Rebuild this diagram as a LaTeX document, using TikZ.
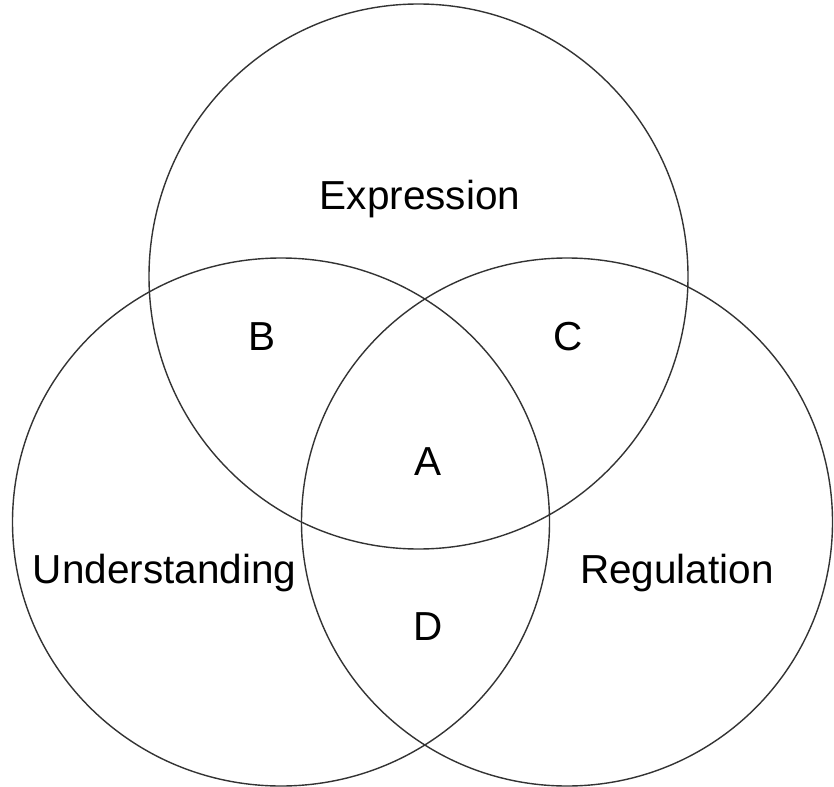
\documentclass[tikz,border=0pt]{standalone}
\usepackage{fontspec}
\setmainfont{Liberation Sans}
\usetikzlibrary{shapes.geometric}
\tikzset{
  setcircle/.style={draw=black!80, line width=1.4pt, ellipse, inner sep=0pt, outer sep=0pt},
  lbl/.style={font=\fontsize{40.5pt}{48pt}\selectfont, anchor=base, inner sep=0pt, text=black}
}
\begin{document}
\begin{tikzpicture}[x=1pt,y=-1pt]
\useasboundingbox (0,0) rectangle (834,786);
\node[setcircle, minimum width=539pt, minimum height=545pt] (top) at (418.5,276.5) {};
\node[setcircle, minimum width=537pt, minimum height=528pt] (left) at (281,522) {};
\node[setcircle, minimum width=531pt, minimum height=528pt] (right) at (567,522) {};
\node[lbl] (expr) at (420,210) {Expression};
\node[lbl] (und) at (164.5,583) {Understanding};
\node[lbl] (reg) at (677,583) {Regulation};
\node[lbl] (b) at (262,350) {B};
\node[lbl] (c) at (568,350) {C};
\node[lbl] (a) at (428,475) {A};
\node[lbl] (d) at (428,640) {D};
\end{tikzpicture}
\end{document}
